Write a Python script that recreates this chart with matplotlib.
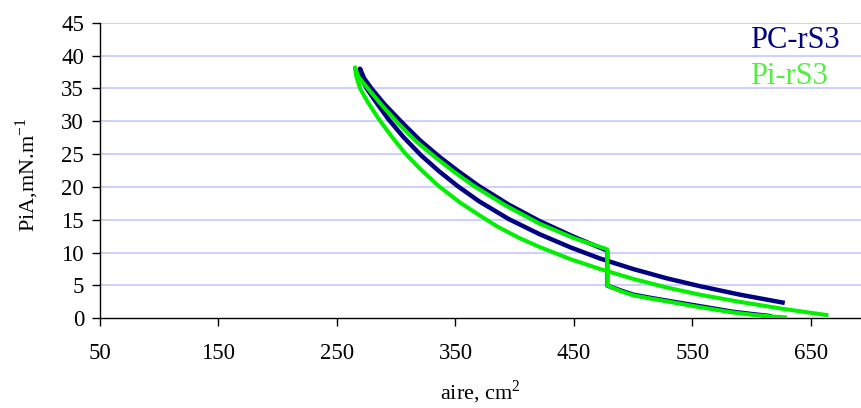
import matplotlib
matplotlib.use("Agg")
import matplotlib.pyplot as plt

# PC-rS3 isotherm, two branches (area cm2, pressure mN/m)
pc_up_x = [269.4, 273, 279, 290, 306, 320, 337, 353, 370, 395, 421, 450, 478,
           478, 490, 500, 515, 528, 556, 584, 600, 615]
pc_up_y = [38.0, 36.5, 35.0, 32.6, 29.6, 27.1, 24.5, 22.3, 20.1, 17.3, 14.8, 12.4, 10.3,
           5.0, 4.2, 3.6, 3.1, 2.7, 1.85, 1.0, 0.65, 0.35]
pc_lo_x = [269.4, 271, 275, 283, 293, 306, 321, 336, 352, 370, 395, 421, 447,
           472, 500, 528, 556, 590, 626]
pc_lo_y = [38.0, 36.4, 35.0, 32.9, 30.4, 27.6, 24.8, 22.4, 20.1, 17.8, 15.1, 12.8, 10.8,
           9.1, 7.5, 6.1, 4.9, 3.6, 2.4]

# Pi-rS3 isotherm
pi_up_x = [265.2, 268, 276, 288, 302, 317, 333, 348, 365, 392, 421, 450, 478,
           478, 490, 500, 515, 528, 556, 584, 600, 615, 628]
pi_up_y = [38.2, 36.8, 35.0, 32.4, 29.6, 26.9, 24.5, 22.4, 20.2, 17.2, 14.4, 12.2, 10.5,
           5.0, 4.1, 3.5, 3.0, 2.6, 1.7, 0.9, 0.55, 0.3, 0.15]
pi_lo_x = [265.2, 266, 269.4, 276, 285, 296, 308, 321, 336, 354, 370, 385, 403, 421, 447,
           472, 500, 528, 556, 590, 626, 663]
pi_lo_y = [38.2, 37.0, 35.0, 32.9, 30.4, 27.7, 25.0, 22.6, 20.1, 17.6, 15.7, 14.0, 12.3, 10.85, 9.0,
           7.5, 6.0, 4.7, 3.6, 2.5, 1.45, 0.5]

series_names = ["PC-rS3", "Pi-rS3"]
x_ticks = [50, 150, 250, 350, 450, 550, 650]
y_ticks = [0, 5, 10, 15, 20, 25, 30, 35, 40, 45]

NAVY = "#000080"
GREEN = "#00f000"
GREEN_TXT = "#55ee40"
GRID = "#ccccff"

plt.rcParams["font.family"] = ["Liberation Serif", "DejaVu Serif"]
plt.rcParams["mathtext.fontset"] = "custom"
plt.rcParams["mathtext.rm"] = "Liberation Serif"

W, H = 862, 408
fig = plt.figure(figsize=(W / 100, H / 100), dpi=100)
x0, y0 = 100, 318.3          # pixel position of (50, 0)
x_right, y_top = 862, 22.7
ax = fig.add_axes([x0 / W, (H - y0) / H, (x_right - x0) / W, (y0 - y_top) / H])

ax.set_xlim(50, 50 + (x_right - x0) / 1.185)
ax.set_ylim(0, 45)

for y in y_ticks[1:]:
    ax.axhline(y, color=GRID, lw=1.3, zorder=0)

# each loop drawn as one line: lower branch back to the tip, then the upper one
ax.plot(pc_lo_x[::-1] + pc_up_x, pc_lo_y[::-1] + pc_up_y,
        color=NAVY, lw=3.2, zorder=2, solid_joinstyle="round")
ax.plot(pi_lo_x[::-1] + pi_up_x, pi_lo_y[::-1] + pi_up_y,
        color=GREEN, lw=2.9, zorder=3, solid_joinstyle="round")

for s in ("top", "right"):
    ax.spines[s].set_visible(False)
ax.spines["left"].set_linewidth(1.0)
ax.spines["bottom"].set_linewidth(1.0)

ax.set_xticks(x_ticks)
ax.set_yticks(y_ticks)
ax.tick_params(axis="x", direction="out", length=5.5, width=1, pad=12, labelsize=16.5)
ax.tick_params(axis="y", direction="out", length=5.5, width=1, pad=6, labelsize=16.5)

ax.set_xlabel("aire, cm$^{\\mathrm{2}}$", fontsize=16)
ax.xaxis.set_label_coords((480 - x0) / (x_right - x0), (y0 - 392) / (y0 - y_top))
ax.xaxis.label.set_va("center")
ax.set_ylabel("PiA,mN.m$^{\\mathrm{-1}}$", fontsize=16)
ax.yaxis.set_label_coords((27 - x0) / (x_right - x0), (y0 - 175) / (y0 - y_top))
ax.yaxis.label.set_va("center")

ax.text((750 - x0) / (x_right - x0), (y0 - 40) / (y0 - y_top), series_names[0],
        transform=ax.transAxes, color=NAVY, fontsize=22, ha="left", va="center")
ax.text((750 - x0) / (x_right - x0), (y0 - 77) / (y0 - y_top), series_names[1],
        transform=ax.transAxes, color=GREEN_TXT, fontsize=22, ha="left", va="center")

fig.savefig("out.png", dpi=100, facecolor="white")
